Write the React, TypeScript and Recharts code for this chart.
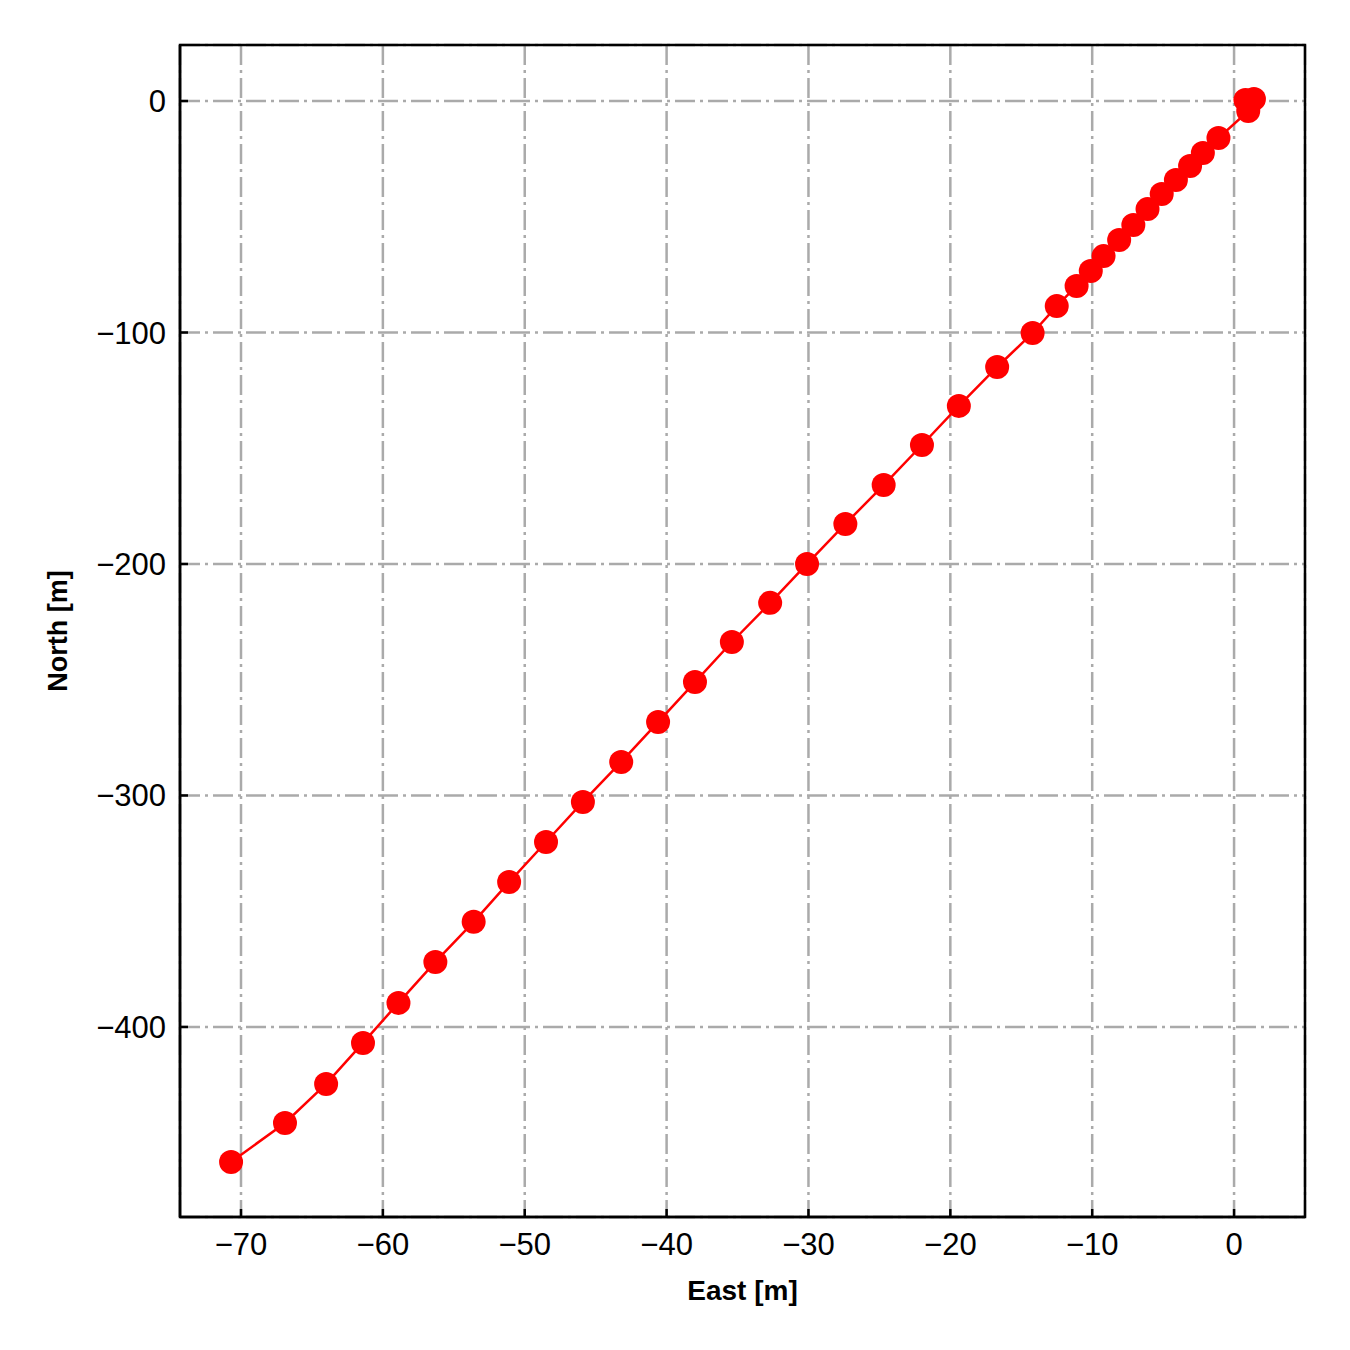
import React from "react";
import {
  LineChart,
  Line,
  XAxis,
  YAxis,
  CartesianGrid,
  ReferenceArea,
  Label,
} from "recharts";

// trajectory, origin first
const east = [
  1.4, 0.8, 1.0, -1.1, -2.2, -3.1, -4.1, -5.1, -6.1, -7.1, -8.1, -9.2, -10.1,
  -11.1, -12.5, -14.2, -16.7, -19.4, -22.0, -24.7, -27.4, -30.1, -32.7, -35.4,
  -38.0, -40.6, -43.2, -45.9, -48.5, -51.1, -53.6, -56.3, -58.9, -61.4, -64.0,
  -66.9, -70.7,
];
const north = [
  0.9, 0.4, -4.3, -16.0, -22.5, -28.1, -34.1, -40.2, -46.7, -53.6, -60.0,
  -67.0, -73.4, -79.9, -88.6, -100.2, -114.9, -131.7, -148.6, -165.9, -182.7,
  -200.0, -216.8, -233.7, -251.0, -268.3, -285.5, -302.8, -320.1, -337.4,
  -354.6, -371.9, -389.6, -406.9, -424.6, -441.5, -458.3,
];
const eastTicks = [-70, -60, -50, -40, -30, -20, -10, 0];
const northTicks = [-400, -300, -200, -100, 0];

const data = east.map((e, i) => ({ east: e, north: north[i] }));

const FONT = "'Liberation Sans', Arial, sans-serif";
const fmt = (v: number) => (v < 0 ? "\u2212" + Math.abs(v) : String(v));

const App = () => {
  return (
    <div style={{ position: "absolute", left: 0, top: 0 }}>
      <LineChart
        width={1350}
        height={1350}
        data={data}
        margin={{ top: 45, right: 45, left: 0, bottom: 0 }}
      >
        <CartesianGrid
          stroke="#aaaaaa"
          strokeWidth={2.5}
          strokeDasharray="20 5 3 5"
        />
        <XAxis
          type="number"
          dataKey="east"
          domain={[-74.3, 5.0]}
          ticks={eastTicks}
          allowDataOverflow
          height={133}
          tickFormatter={fmt}
          tickSize={-8}
          tickMargin={24}
          axisLine={{ stroke: "#000", strokeWidth: 2.5 }}
          tickLine={{ stroke: "#000", strokeWidth: 2.5 }}
          tick={{ fill: "#000", fontSize: 31, fontFamily: FONT }}
        >
          <Label
            content={(p: any) => (
              <text
                x={p.viewBox.x + p.viewBox.width / 2}
                y={p.viewBox.y + 83}
                textAnchor="middle"
                fontFamily={FONT}
                fontWeight="bold"
                fontSize={28}
                fill="#000"
              >
                East [m]
              </text>
            )}
          />
        </XAxis>
        <YAxis
          type="number"
          domain={[-482.1, 24.2]}
          ticks={northTicks}
          allowDataOverflow
          width={180}
          tickFormatter={fmt}
          tickSize={-8}
          tickMargin={22}
          axisLine={{ stroke: "#000", strokeWidth: 2.5 }}
          tickLine={{ stroke: "#000", strokeWidth: 2.5 }}
          tick={{ fill: "#000", fontSize: 31, fontFamily: FONT }}
        >
          <Label
            content={(p: any) => {
              const cy = p.viewBox.y + p.viewBox.height / 2;
              return (
                <text
                  x={67}
                  y={cy}
                  transform={`rotate(-90, 67, ${cy})`}
                  textAnchor="middle"
                  fontFamily={FONT}
                  fontWeight="bold"
                  fontSize={27}
                  fill="#000"
                >
                  North [m]
                </text>
              );
            }}
          />
        </YAxis>
        <ReferenceArea
          x1={-74.3}
          x2={5.0}
          y1={-482.1}
          y2={24.2}
          fill="none"
          stroke="#000"
          strokeWidth={2.5}
          ifOverflow="visible"
        />
        <Line
          dataKey="north"
          type="linear"
          stroke="#ff0000"
          strokeWidth={2.5}
          dot={{ r: 12, fill: "#ff0000", stroke: "none" }}
          activeDot={false}
          isAnimationActive={false}
        />
      </LineChart>
    </div>
  );
};

export default App;
